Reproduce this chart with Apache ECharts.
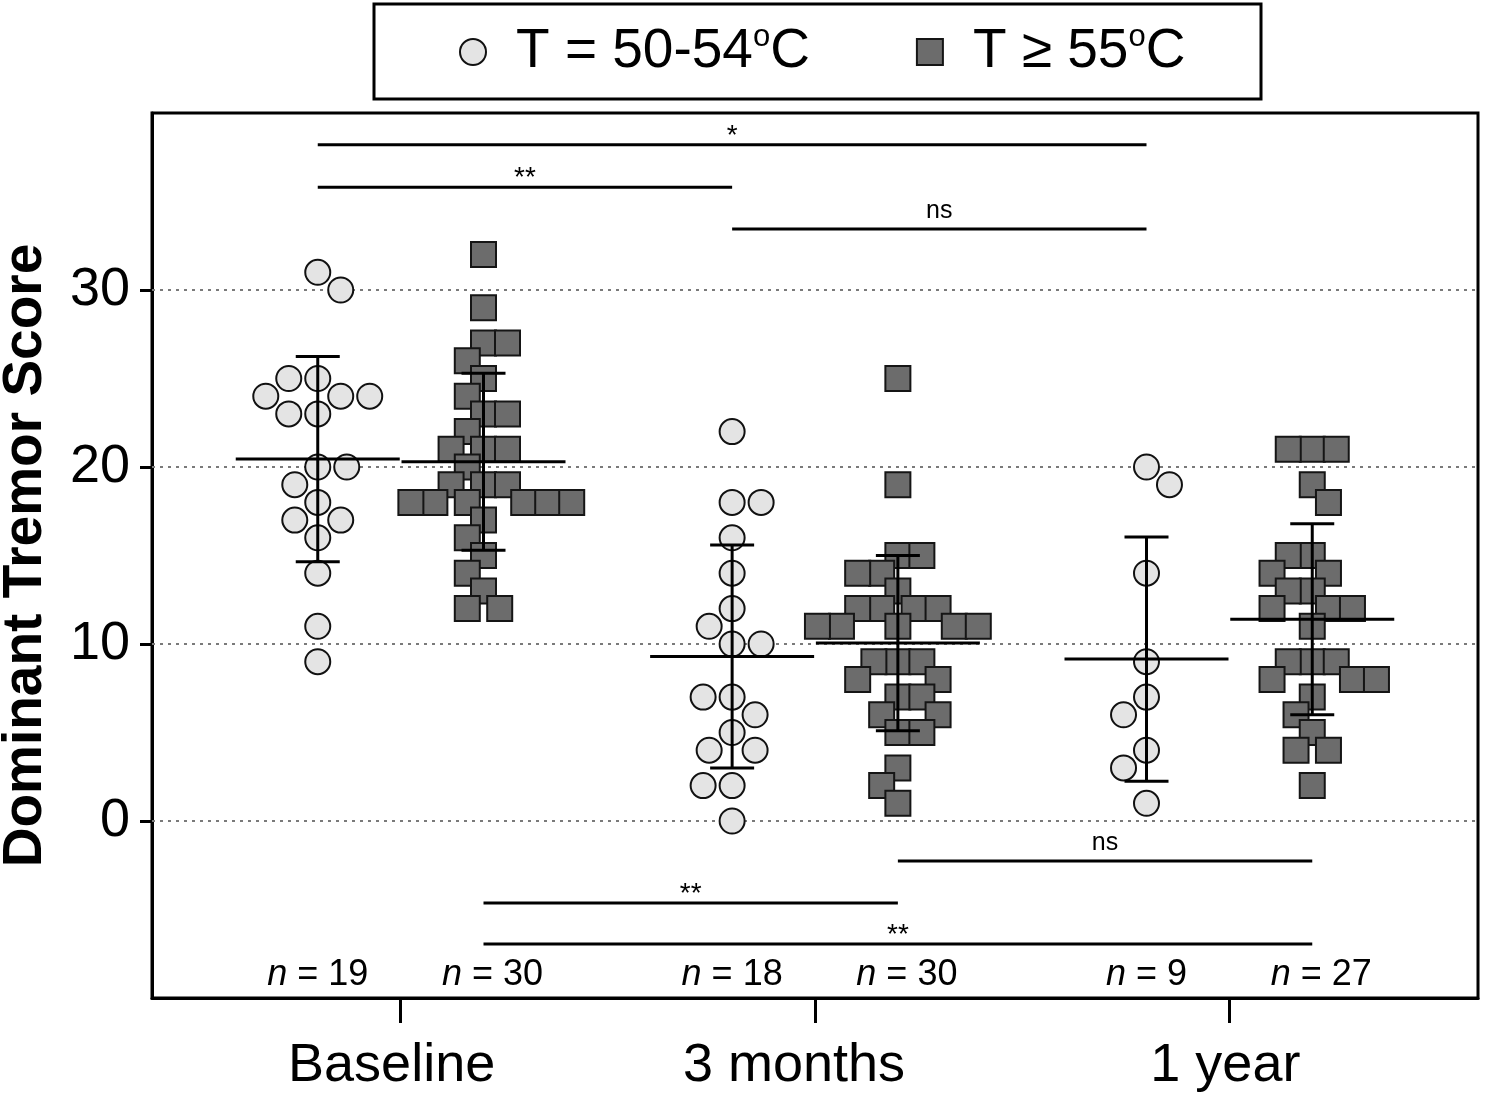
<!DOCTYPE html>
<html>
<head>
<meta charset="utf-8">
<script src="https://cdn.jsdelivr.net/npm/echarts@6/dist/echarts.min.js"></script>
<style>
html,body{margin:0;padding:0;background:#fff;}
#chart{width:1487px;height:1097px;}
</style>
</head>
<body>
<div id="chart"></div>
<script>
// ---------- data ----------
const categories = ['Baseline', '3 months', '1 year'];
const yTicks = [0, 10, 20, 30];
const seriesNames = ['T = 50-54°C', 'T ≥ 55°C'];

const circleBaseline = [31, 30, 25, 25, 24, 24, 24, 23, 23, 20, 20, 19, 18, 17, 17, 16, 14, 11, 9];
const circle3m = [22, 18, 18, 16, 14, 12, 11, 10, 10, 7, 7, 6, 5, 4, 4, 2, 2, 0];
const circle1y = [20, 19, 14, 9, 7, 6, 4, 3, 1];

const squareBaseline = [32, 29, 27, 27, 26, 25, 24, 23, 23, 22, 21, 21, 21, 20, 19, 19, 19, 18, 18, 18, 18, 18, 18, 17, 16, 15, 14, 13, 12, 12];
const square3m = [25, 19, 15, 15, 14, 14, 13, 12, 12, 12, 12, 11, 11, 11, 11, 11, 9, 9, 9, 8, 8, 7, 7, 6, 6, 5, 5, 3, 2, 1];
const square1y = [21, 21, 21, 19, 18, 15, 15, 14, 14, 13, 13, 12, 12, 12, 11, 9, 9, 9, 8, 8, 8, 7, 6, 5, 4, 4, 2];

const circleMean = [20.45, 9.3, 9.15];
const circleSD = [5.8, 6.3, 6.9];
const squareMean = [20.3, 10.05, 11.4];
const squareSD = [5.0, 4.95, 5.4];

// significance brackets: group = 0 circles / 1 squares, from/to time index
const brackets = [
  { group: 0, from: 0, to: 2, y: 38.2, label: '*' },
  { group: 0, from: 0, to: 1, y: 35.8, label: '**' },
  { group: 0, from: 1, to: 2, y: 33.45, label: 'ns' },
  { group: 1, from: 1, to: 2, y: -2.26, label: 'ns' },
  { group: 1, from: 0, to: 1, y: -4.63, label: '**' },
  { group: 1, from: 0, to: 2, y: -6.95, label: '**' }
];
const nLabelY = -8.7;

// ---------- layout ----------
const FONT = "'Liberation Sans', Arial, Helvetica, sans-serif";
const GRID = { left: 152, top: 113, width: 1326, height: 885 };
const X_MIN = 0.4, X_MAX = 3.6, Y_MIN = -10, Y_MAX = 40;
const xUnit = GRID.width / (X_MAX - X_MIN);
const yUnit = GRID.height / (Y_MAX - Y_MIN);
const timeX = [1, 2, 3];
const groupOffset = [-0.2, 0.2];
const meanHalf = 82 / xUnit;
const capHalfPx = 22;
const xLabelPadRight = [18, 42, 8];   // nudges category labels slightly left, as in the original
const nLabelNudge = [0, 9];           // px nudge of the n labels for circles / squares

function swarm(values, center, D) {
  const placed = [];
  return values.map(v => {
    const y = v * yUnit;
    const cands = [0];
    placed.forEach(p => {
      const dy = Math.abs(p.y - y);
      if (dy < D) {
        const dx = Math.sqrt(D * D - dy * dy);
        cands.push(p.x - dx, p.x + dx);
      }
    });
    const bias = placed.reduce((s, p) => s + p.x, 0);
    cands.sort((a, b) => {
      const d = Math.abs(a) - Math.abs(b);
      if (Math.abs(d) > 0.5) return d;
      return bias > 0 ? a - b : b - a;
    });
    let best = 0;
    for (const c of cands) {
      if (placed.every(p => (p.x - c) * (p.x - c) + (p.y - y) * (p.y - y) >= D * D - 0.01)) { best = c; break; }
    }
    placed.push({ x: best, y });
    return [center + best / xUnit, v];
  });
}

const circleGroups = [circleBaseline, circle3m, circle1y];
const squareGroups = [squareBaseline, square3m, square1y];
const circleData = [].concat(...circleGroups.map((g, i) => swarm(g, timeX[i] + groupOffset[0], 29)));
const squareData = [].concat(...squareGroups.map((g, i) => swarm(g, timeX[i] + groupOffset[1], 24)));

const meanData = [];
for (let i = 0; i < 3; i++) {
  meanData.push([timeX[i] + groupOffset[0], circleMean[i], circleSD[i]]);
  meanData.push([timeX[i] + groupOffset[1], squareMean[i], squareSD[i]]);
}

const bracketData = brackets.map(b => [timeX[b.from] + groupOffset[b.group], b.y, timeX[b.to] + groupOffset[b.group]]);

const nData = [], nCounts = [], nGroup = [];
for (let i = 0; i < 3; i++) {
  nData.push([timeX[i] + groupOffset[0], nLabelY]); nCounts.push(circleGroups[i].length); nGroup.push(0);
  nData.push([timeX[i] + groupOffset[1], nLabelY]); nCounts.push(squareGroups[i].length); nGroup.push(1);
}

const chart = echarts.init(document.getElementById('chart'), null, { renderer: 'canvas' });

const xLabelRich = {};
categories.forEach((c, i) => {
  xLabelRich['c' + i] = { fontSize: 54, color: '#000', fontFamily: FONT, padding: [0, xLabelPadRight[i], 0, 0] };
});

const option = {
  animation: false,
  backgroundColor: '#fff',
  textStyle: { fontFamily: FONT },
  grid: { left: GRID.left, top: GRID.top, width: GRID.width, height: GRID.height,
          show: true, borderColor: '#000', borderWidth: 3, containLabel: false, outerBoundsMode: 'none' },
  legend: {
    data: [{ name: seriesNames[0], icon: 'circle' }, { name: seriesNames[1], icon: 'rect' }],
    left: 459, top: 22, padding: 0,
    itemWidth: 26, itemHeight: 26, itemGap: 106,
    selectedMode: false,
    formatter: function (name) {
      const txt = name === seriesNames[0] ? 'T = 50-54' : 'T ≥ 55';
      return '{p| }{a|' + txt + '}{s|o}{a|C}';
    },
    textStyle: {
      fontFamily: FONT, color: '#000',
      rich: {
        p: { width: 25, fontSize: 55, lineHeight: 60, fontFamily: FONT },
        a: { fontSize: 55, lineHeight: 60, color: '#000', fontFamily: FONT },
        s: { fontSize: 31, lineHeight: 30, verticalAlign: 'top', color: '#000', fontFamily: FONT }
      }
    }
  },
  graphic: [{
    type: 'rect', silent: true, z: 10,
    shape: { x: 374, y: 4, width: 887, height: 95 },
    style: { fill: 'none', stroke: '#000', lineWidth: 3 }
  }],
  xAxis: {
    type: 'value', min: X_MIN, max: X_MAX,
    splitLine: { show: false },
    axisLine: { show: true, onZero: false, lineStyle: { color: '#000', width: 3 } },
    axisTick: { show: true, customValues: timeX, length: 25, lineStyle: { color: '#000', width: 3 } },
    axisLabel: {
      customValues: timeX, margin: 41, color: '#000', fontSize: 54, fontFamily: FONT,
      formatter: v => { const i = Math.round(v) - 1; return '{c' + i + '|' + categories[i] + '}'; },
      rich: xLabelRich
    }
  },
  yAxis: {
    type: 'value', min: Y_MIN, max: Y_MAX, interval: 10,
    name: 'Dominant Tremor Score', nameLocation: 'middle', nameGap: 99, nameRotate: 90,
    nameTextStyle: { fontSize: 55, fontWeight: 'bold', color: '#000', fontFamily: FONT },
    splitLine: { show: false },
    axisLine: { show: true, onZero: false, lineStyle: { color: '#000', width: 3 } },
    axisTick: { show: true, customValues: yTicks, length: 12, lineStyle: { color: '#000', width: 3 } },
    axisLabel: { customValues: yTicks, margin: 22, color: '#000', fontSize: 54, fontFamily: FONT }
  },
  series: [
    {
      name: seriesNames[0], type: 'scatter', symbol: 'circle', symbolSize: 25,
      data: circleData, z: 3,
      itemStyle: { color: '#e4e4e4', borderColor: '#111', borderWidth: 2, opacity: 1 },
      markLine: {
        silent: true, symbol: 'none', z: 1, animation: false,
        label: { show: false },
        lineStyle: { type: [3, 5], color: '#7a7a7a', width: 2 },
        data: yTicks.map(t => ({ yAxis: t }))
      }
    },
    {
      name: seriesNames[1], type: 'scatter', symbol: 'rect', symbolSize: 25,
      data: squareData, z: 3,
      itemStyle: { color: '#6c6c6c', borderColor: '#151515', borderWidth: 2, opacity: 1 }
    },
    {
      name: 'meanSD', type: 'custom', z: 5, silent: true,
      encode: { x: 0, y: 1 },
      data: meanData,
      renderItem: function (params, api) {
        const x = api.value(0), m = api.value(1), s = api.value(2);
        const pL = api.coord([x - meanHalf, m]), pR = api.coord([x + meanHalf, m]);
        const pT = api.coord([x, m + s]), pB = api.coord([x, m - s]);
        const st = { stroke: '#000', lineWidth: 3 };
        return { type: 'group', children: [
          { type: 'line', shape: { x1: pL[0], y1: pL[1], x2: pR[0], y2: pR[1] }, style: st },
          { type: 'line', shape: { x1: pT[0], y1: pT[1], x2: pB[0], y2: pB[1] }, style: st },
          { type: 'line', shape: { x1: pT[0] - capHalfPx, y1: pT[1], x2: pT[0] + capHalfPx, y2: pT[1] }, style: st },
          { type: 'line', shape: { x1: pB[0] - capHalfPx, y1: pB[1], x2: pB[0] + capHalfPx, y2: pB[1] }, style: st }
        ]};
      }
    },
    {
      name: 'brackets', type: 'custom', z: 5, silent: true,
      encode: { x: [0, 2], y: 1 },
      data: bracketData,
      renderItem: function (params, api) {
        const b = brackets[params.dataIndex];
        const p1 = api.coord([api.value(0), api.value(1)]);
        const p2 = api.coord([api.value(2), api.value(1)]);
        const dy = b.label === 'ns' ? -18 : -9;
        return { type: 'group', children: [
          { type: 'line', shape: { x1: p1[0], y1: p1[1], x2: p2[0], y2: p2[1] }, style: { stroke: '#000', lineWidth: 3 } },
          { type: 'text', x: (p1[0] + p2[0]) / 2, y: p1[1] + dy,
            style: { text: b.label, fontSize: b.label === 'ns' ? 25 : 28, fontFamily: FONT, fill: '#000',
                     align: 'center', verticalAlign: 'middle' } }
        ]};
      }
    },
    {
      name: 'nLabels', type: 'custom', z: 5, silent: true,
      encode: { x: 0, y: 1 },
      data: nData,
      renderItem: function (params, api) {
        const p = api.coord([api.value(0), api.value(1)]);
        const i = params.dataIndex;
        return { type: 'text', x: p[0] + nLabelNudge[nGroup[i]], y: p[1],
          style: {
            text: '{i|n}{t| = ' + nCounts[i] + '}',
            align: 'center', verticalAlign: 'middle', fill: '#000',
            rich: {
              i: { fontStyle: 'italic', fontSize: 36, fill: '#000', fontFamily: FONT },
              t: { fontSize: 36, fill: '#000', fontFamily: FONT }
            }
          } };
      }
    }
  ]
};
chart.setOption(option);
</script>
</body>
</html>
